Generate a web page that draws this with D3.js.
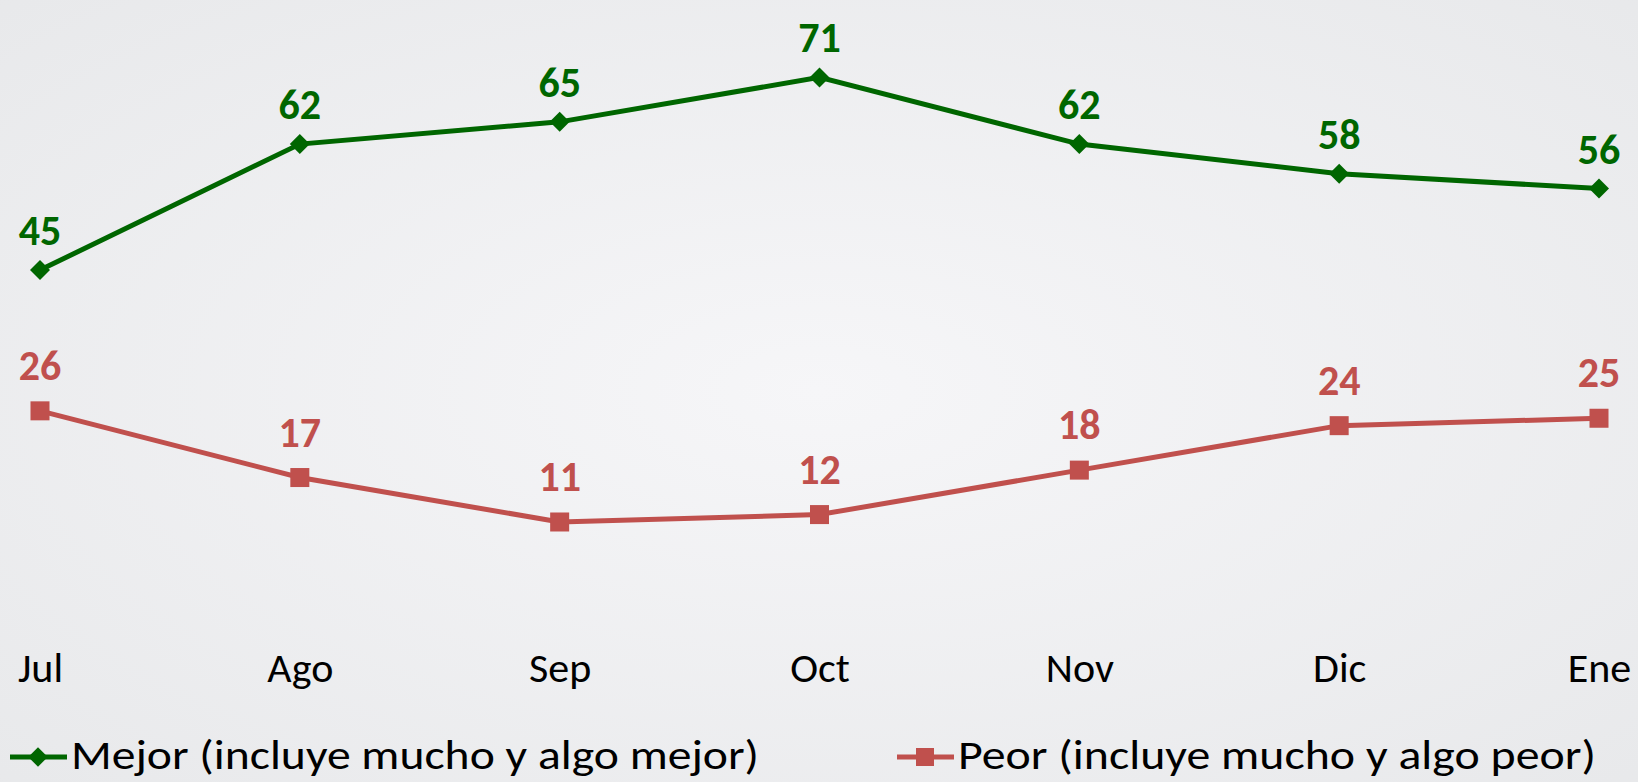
<!DOCTYPE html>
<html>
<head>
<meta charset="utf-8">
<script src="https://cdn.jsdelivr.net/npm/d3@7"></script>
<style>
  html, body { margin: 0; padding: 0; overflow: hidden; }
  svg { display: block; font-family: Carlito, Calibri, Lato, sans-serif; }
</style>
</head>
<body>
<div id="chart"></div>
<script>
// data
var months = ["Jul", "Ago", "Sep", "Oct", "Nov", "Dic", "Ene"];
var mejor = [45, 62, 65, 71, 62, 58, 56];
var peor = [26, 17, 11, 12, 18, 24, 25];
var seriesNames = ["Mejor (incluye mucho y algo mejor)", "Peor (incluye mucho y algo peor)"];

var W = 1638, H = 782;
var green = "#006600", red = "#c0504d";

var svg = d3.select("#chart")
  .append("svg")
    .attr("width", W)
    .attr("height", H);

// background gradient
var defs = svg.append("defs");
var grad = defs.append("radialGradient")
    .attr("id", "bg")
    .attr("cx", "50%").attr("cy", "50%").attr("r", "75%");
grad.append("stop").attr("offset", "0%").attr("stop-color", "#f6f6f8");
grad.append("stop").attr("offset", "100%").attr("stop-color", "#e7e8ea");
svg.append("rect")
    .attr("width", W).attr("height", H)
    .attr("fill", "url(#bg)");

// scales
var x = d3.scalePoint()
  .domain(months)
  .range([40, 1599]);
var y = d3.scaleLinear()
  .domain([0, 80])
  .range([603.5, 10.7]);

// x axis labels (no line, no ticks)
var xAxis = svg.append("g")
    .attr("transform", "translate(0,682)")
    .call(d3.axisBottom(x).tickSize(0).tickPadding(0));
xAxis.select(".domain").remove();
xAxis.selectAll("text")
    .attr("dy", 0)
    .attr("y", 0)
    .style("font-family", "Carlito, Calibri, Lato, sans-serif")
    .style("font-size", "42px")
    .attr("fill", "#000");

var line = d3.line()
  .x(function(d, i) { return x(months[i]); })
  .y(function(d) { return y(d); });

// Mejor
svg.append("path")
    .datum(mejor)
    .attr("d", line)
    .attr("fill", "none")
    .attr("stroke", green)
    .attr("stroke-width", 5);
var diamond = d3.symbol().type(d3.symbolSquare).size(200);
svg.selectAll(".dmej")
  .data(mejor)
  .enter()
  .append("path")
    .attr("class", "dmej")
    .attr("d", diamond)
    .attr("transform", function(d, i) { return "translate(" + x(months[i]) + "," + y(d) + ") rotate(45)"; })
    .attr("fill", green);
svg.selectAll(".lmej")
  .data(mejor)
  .enter()
  .append("text")
    .attr("x", function(d, i) { return x(months[i]); })
    .attr("y", function(d) { return y(d) - 25; })
    .attr("text-anchor", "middle")
    .attr("font-size", 42)
    .attr("font-weight", "bold")
    .attr("fill", green)
    .text(function(d) { return d; });

// Peor
svg.append("path")
    .datum(peor)
    .attr("d", line)
    .attr("fill", "none")
    .attr("stroke", red)
    .attr("stroke-width", 5);
svg.selectAll(".speor")
  .data(peor)
  .enter()
  .append("rect")
    .attr("class", "speor")
    .attr("x", function(d, i) { return x(months[i]) - 9.5; })
    .attr("y", function(d) { return y(d) - 9.5; })
    .attr("width", 19)
    .attr("height", 19)
    .attr("fill", red);
svg.selectAll(".lpeor")
  .data(peor)
  .enter()
  .append("text")
    .attr("x", function(d, i) { return x(months[i]); })
    .attr("y", function(d) { return y(d) - 31; })
    .attr("text-anchor", "middle")
    .attr("font-size", 42)
    .attr("font-weight", "bold")
    .attr("fill", red)
    .text(function(d) { return d; });

// legend
var legend = [
  {name: seriesNames[0], color: green, x0: 10, tl: 688},
  {name: seriesNames[1], color: red, x0: 897, tl: 638}
];
var lg = svg.selectAll(".legend")
  .data(legend)
  .enter()
  .append("g")
    .attr("class", "legend")
    .attr("transform", function(d) { return "translate(" + d.x0 + ",757)"; });
lg.append("line")
    .attr("x1", 0).attr("x2", 57)
    .attr("stroke", function(d) { return d.color; })
    .attr("stroke-width", 5);
lg.filter(function(d, i) { return i == 0; })
  .append("path")
    .attr("d", d3.symbol().type(d3.symbolSquare).size(190))
    .attr("transform", "translate(28,0) rotate(45)")
    .attr("fill", green);
lg.filter(function(d, i) { return i == 1; })
  .append("rect")
    .attr("x", 19).attr("y", -9).attr("width", 18).attr("height", 18)
    .attr("fill", red);
lg.append("text")
    .attr("x", 61)
    .attr("y", 12)
    .attr("font-size", 41)
    .attr("fill", "#000")
    .attr("textLength", function(d) { return d.tl; })
    .attr("lengthAdjust", "spacingAndGlyphs")
    .text(function(d) { return d.name; });
</script>
</body>
</html>
